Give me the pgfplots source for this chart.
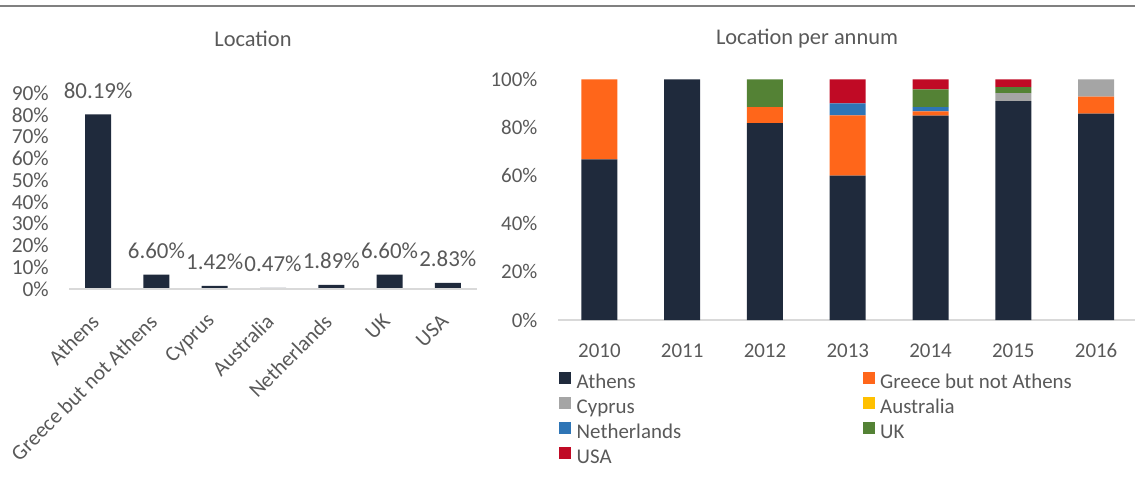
\documentclass[border=0pt]{standalone}
\usepackage{fontspec}
\setmainfont{Carlito}
\usepackage{pgfplots}
\pgfplotsset{compat=1.18}
\definecolor{athens}{HTML}{1F2A3C}
\definecolor{greece}{HTML}{FF661A}
\definecolor{cyprus}{HTML}{A5A5A5}
\definecolor{austr}{HTML}{FFC000}
\definecolor{neth}{HTML}{2E75B6}
\definecolor{ukc}{HTML}{548235}
\definecolor{usa}{HTML}{C00A25}
\definecolor{txt}{HTML}{595959}
\definecolor{axl}{HTML}{D9D9D9}
\newcommand{\legitem}[1]{\makebox[286bp][l]{#1}}
\begin{document}
\begin{tikzpicture}
\path[use as bounding box] (0,0) rectangle (1135bp,483bp);
\draw[color=gray, line width=2bp] (0,477bp) -- (1135bp,477bp);
\node[text=txt, font=\fontsize{22.5}{27}\selectfont] at (253bp,444bp) {Location};
\node[text=txt, font=\fontsize{22.5}{27}\selectfont] at (807bp,444bp) {Location per annum};

\begin{axis}[
 at={(69bp,194bp)}, anchor=south west,
 scale only axis, width=408bp, height=196bp,
 xmin=-0.5, xmax=6.5, ymin=0, ymax=90,
 axis lines*=left, axis line style={draw=none},
 major tick length=0pt,
 ytick={0,10,...,90},
 yticklabel={\pgfmathprintnumber{\tick}\%},
 xtick={0,...,6},
 xticklabels={Athens,Greece but not Athens,Cyprus,Australia,Netherlands,UK,USA},
 tick label style={font=\fontsize{21.5}{25}\selectfont, text=txt},
 /pgf/number format/assume math mode=true,
 yticklabel style={inner sep=0pt, xshift=-20bp},
 xticklabel style={xshift=-3bp, yshift=-29bp, rotate=45, anchor=east, inner sep=0pt},
 clip=false,
 ybar, bar width=26bp,
 nodes near coords={\pgfmathprintnumber[fixed,fixed zerofill,precision=2]{\pgfplotspointmeta}\%},
 every node near coord/.append style={font=\fontsize{23}{27}\selectfont, text=txt, anchor=base, inner sep=0pt, yshift=16bp},
]
\addplot[fill=athens, draw=none] coordinates {(0,80.19) (1,6.60) (2,1.42) (3,0.47) (4,1.89) (5,6.60) (6,2.83)};
\draw[axl, line width=1.5bp] (axis cs:-0.5,0) -- (axis cs:6.5,0);
\end{axis}

\begin{axis}[
 at={(558bp,163bp)}, anchor=south west,
 scale only axis, width=577bp, height=240.7bp,
 xmin=-0.5, xmax=6.47, ymin=0, ymax=100,
 axis lines*=left, axis line style={draw=none},
 major tick length=0pt,
 ytick={0,20,...,100},
 yticklabel={\pgfmathprintnumber{\tick}\%},
 xtick={0,...,6},
 xticklabels={2010,2011,2012,2013,2014,2015,2016},
 tick label style={font=\fontsize{21}{25}\selectfont, text=txt},
 /pgf/number format/assume math mode=true,
 yticklabel style={inner sep=0pt, xshift=-20.4bp},
 xticklabel style={anchor=north, inner sep=0pt, text height=14bp, yshift=-23bp},
 clip=false,
 ybar stacked, bar width=36bp,
 legend columns=2,
 legend cell align=left,
 legend style={at={(0.0017,-0.216)}, anchor=north west, draw=none, fill=none, inner sep=0pt,
   font=\fontsize{21}{25}\selectfont, text=txt,
   nodes={inner sep=0pt, text height=14bp, text depth=5bp},
   /tikz/every odd column/.append style={column sep=5.5bp},
   /tikz/every even column/.append style={column sep=0bp},
   row sep=3.6bp},
 legend image code/.code={\fill[#1] (0bp,0.3bp) rectangle (12bp,12bp);},
]
\addplot[fill=athens, draw=none] coordinates {(0,66.7) (1,100) (2,81.8) (3,60) (4,84.9) (5,90.9) (6,85.7)};
\addplot[fill=greece, draw=none] coordinates {(0,33.3) (1,0) (2,6.6) (3,25) (4,1.8) (5,0) (6,7.1)};
\addplot[fill=cyprus, draw=none] coordinates {(0,0) (1,0) (2,0) (3,0) (4,0) (5,3.4) (6,7.2)};
\addplot[fill=austr, draw=none] coordinates {(0,0) (1,0) (2,0) (3,0) (4,0) (5,0) (6,0)};
\addplot[fill=neth, draw=none] coordinates {(0,0) (1,0) (2,0) (3,5) (4,1.7) (5,0) (6,0)};
\addplot[fill=ukc, draw=none] coordinates {(0,0) (1,0) (2,11.6) (3,0) (4,7.4) (5,2.5) (6,0)};
\addplot[fill=usa, draw=none] coordinates {(0,0) (1,0) (2,0) (3,10) (4,4.2) (5,3.2) (6,0)};
\legend{\legitem{Athens},\legitem{Greece but not Athens},\legitem{Cyprus},\legitem{Australia},\legitem{Netherlands},\legitem{UK},\legitem{USA}}
\draw[axl, line width=1.5bp] (axis cs:-0.5,0) -- (axis cs:6.47,0);
\end{axis}
\end{tikzpicture}
\end{document}
